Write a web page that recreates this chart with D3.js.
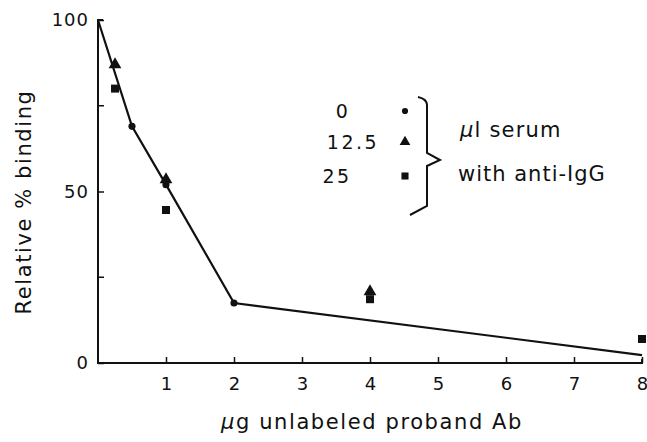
<!DOCTYPE html>
<html>
<head>
<meta charset="utf-8">
<script src="https://cdn.jsdelivr.net/npm/d3@7"></script>
<style>
  body { margin: 0; background: #fff; }
  text { font-family: "DejaVu Sans", sans-serif; fill: #111; }
</style>
</head>
<body>
<div id="chart"></div>
<script>
// fitted curve (0 ul serum) and the three serum series
const curveX = [0, 0.5, 1, 2, 8];
const curveY = [100, 69, 52, 17.5, 2.3];

const serum0 = [[0.5, 69], [1, 52], [2, 17.5]];
const serum12 = [[0.25, 87], [1, 53.5], [4, 20.8]];
const serum25 = [[0.25, 80], [1, 44.6], [4, 18.6], [8, 7]];

const xTicks = [1, 2, 3, 4, 5, 6, 7, 8];
const yTicks = [0, 50, 100];
const yMinor = [25, 75];
const legendLabels = ['0', '12.5', '25'];

const svgWidth = 647, svgHeight = 442;
const margin = {top: 20, right: 4, bottom: 79, left: 98};
const width = svgWidth - margin.left - margin.right;
const height = svgHeight - margin.top - margin.bottom;

const svg = d3.select('#chart')
    .append('svg')
    .attr('width', svgWidth)
    .attr('height', svgHeight)
    .append('g')
    .attr('transform', `translate(${margin.left},${margin.top})`);

const x = d3.scaleLinear().domain([0, 8]).range([0, width - 1]);
const y = d3.scaleLinear().domain([0, 100]).range([height, 0]);

// x axis, ticks pointing inward
const xAxis = svg.append('g')
    .attr('transform', `translate(0,${height})`)
    .call(d3.axisBottom(x).tickValues(xTicks).tickSize(-6).tickPadding(14).tickSizeOuter(0));
xAxis.select('.domain').attr('stroke', '#111').attr('stroke-width', 2)
    .attr('d', `M-1,0H${x(8)}v-4`);
xAxis.selectAll('line').attr('stroke', '#111').attr('stroke-width', 1.5);
xAxis.selectAll('text').attr('font-size', 18).attr('font-family', 'DejaVu Sans').attr('fill', '#111');

// y axis
const yAxis = svg.append('g')
    .call(d3.axisLeft(y).tickValues(yTicks).tickSize(-6).tickPadding(9).tickSizeOuter(0));
yAxis.select('.domain').attr('stroke', '#111').attr('stroke-width', 2)
    .attr('d', `M0,${height + 1}V${y(100)}h5`);
yAxis.selectAll('line').attr('stroke', '#111').attr('stroke-width', 1.5);
yAxis.selectAll('text').attr('font-size', 18).attr('letter-spacing', 1)
    .attr('font-family', 'DejaVu Sans').attr('fill', '#111');

svg.append('g')
    .selectAll('line')
    .data(yMinor)
    .join('line')
    .attr('x1', 0).attr('x2', 6)
    .attr('y1', d => y(d)).attr('y2', d => y(d))
    .attr('stroke', '#111').attr('stroke-width', 1.5);

// fitted line
const line = d3.line().x(d => x(d[0])).y(d => y(d[1]));
svg.append('path')
    .datum(curveX.map((v, i) => [v, curveY[i]]))
    .attr('d', line)
    .attr('fill', 'none')
    .attr('stroke', '#111')
    .attr('stroke-width', 2.2);

const circleSym = d3.symbol().type(d3.symbolCircle).size(40);
const triSym = d3.symbol().type(d3.symbolTriangle).size(70);
const sqSym = d3.symbol().type(d3.symbolSquare).size(64);

function drawSeries(data, sym) {
    svg.append('g')
        .selectAll('path')
        .data(data)
        .join('path')
        .attr('d', sym)
        .attr('transform', d => `translate(${x(d[0])},${y(d[1])})`)
        .attr('fill', '#111');
}
drawSeries(serum0, circleSym);
drawSeries(serum12, triSym);
drawSeries(serum25, sqSym);

// legend
const legend = svg.append('g').attr('transform', 'translate(245,91)');
const legendSyms = [circleSym, triSym, sqSym];
const rowY = [0, 31, 65];
const labelX = [0, 10, -6];
legend.selectAll('text.lab')
    .data(legendLabels)
    .join('text')
    .attr('class', 'lab')
    .attr('x', (d, i) => labelX[i])
    .attr('y', (d, i) => rowY[i] + 7)
    .attr('text-anchor', 'middle')
    .attr('font-size', 19)
    .attr('letter-spacing', 2.5)
    .text(d => d);
legend.selectAll('path.sym')
    .data(legendSyms)
    .join('path')
    .attr('class', 'sym')
    .attr('d', (d, i) => d.size(i === 0 ? 30 : 50)())
    .attr('transform', (d, i) => `translate(62,${rowY[i]})`)
    .attr('fill', '#111');

// brace
legend.append('path')
    .attr('d', 'M75,-14 Q84,-12 84,-6 V42 L97,49 L84,55 V95 L67,104')
    .attr('fill', 'none')
    .attr('stroke', '#111')
    .attr('stroke-width', 2);

const legText = legend.append('text').attr('x', 117).attr('y', 26)
    .attr('font-size', 21).attr('letter-spacing', 1.2);
legText.append('tspan').attr('font-style', 'italic').text('\u03bc');
legText.append('tspan').text('l serum');
legend.append('text').attr('x', 115).attr('y', 70)
    .attr('font-size', 21).attr('letter-spacing', 1).text('with anti-IgG');

// axis titles
const xTitle = svg.append('text')
    .attr('x', 274).attr('y', height + 66)
    .attr('text-anchor', 'middle')
    .attr('font-size', 21)
    .attr('letter-spacing', 1.6);
xTitle.append('tspan').attr('font-style', 'italic').text('\u03bc');
xTitle.append('tspan').text('g unlabeled proband Ab');

svg.append('text')
    .attr('transform', `translate(-67,${182}) rotate(-90)`)
    .attr('text-anchor', 'middle')
    .attr('font-size', 21)
    .attr('letter-spacing', 1.6)
    .text('Relative % binding');
</script>
</body>
</html>
